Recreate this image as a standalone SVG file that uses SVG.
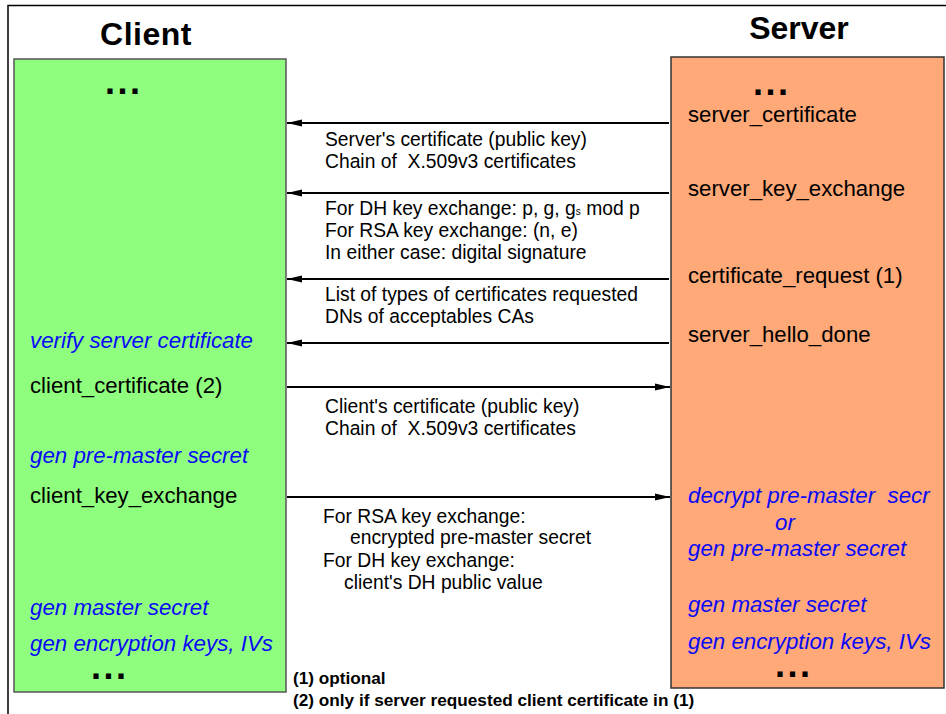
<svg xmlns="http://www.w3.org/2000/svg" width="946" height="714" viewBox="0 0 946 714">
<defs>
<style>
text{font-family:"Liberation Sans",Arial,sans-serif;}
.title{font-size:32px;font-weight:bold;fill:#000;}
.msg{font-size:22.2px;fill:#000;}
.act{font-size:22.3px;font-style:italic;fill:#0a0af5;}
.dots{font-size:36px;font-weight:bold;fill:#000;letter-spacing:2.5px;}
.lbl{font-size:19.3px;fill:#000;}
.note{font-size:17.2px;font-weight:bold;fill:#000;}
.conn{stroke:#000;stroke-width:2;fill:none;}
</style>
<marker id="ah" markerWidth="16" markerHeight="8" refX="15" refY="4" orient="auto" markerUnits="userSpaceOnUse">
<path d="M0,0.5 L15,4 L0,7.5 Z" fill="#000"/>
</marker>
</defs>
<rect x="0" y="0" width="946" height="714" fill="#fff"/>
<g id="frame" stroke="#000" stroke-width="1.5" fill="none">
<path d="M8,714 L8,5.5 L946,5.5"/>
</g>
<text class="title" x="146" y="45" text-anchor="middle" letter-spacing="0.5">Client</text>
<text class="title" x="799" y="39" text-anchor="middle">Server</text>
<g id="client">
<rect x="14" y="59" width="272" height="633" fill="#8ffe7f" stroke="#555" stroke-width="1.5"/>
<text class="dots" x="105" y="94">...</text>
<text class="act" x="30" y="348">verify server certificate</text>
<text class="msg" x="30" y="393">client_certificate (2)</text>
<text class="act" x="30" y="463">gen pre-master secret</text>
<text class="msg" x="30" y="503">client_key_exchange</text>
<text class="act" x="30" y="615">gen master secret</text>
<text class="act" x="30" y="651">gen encryption keys, IVs</text>
<text class="dots" x="91" y="679">...</text>
</g>
<g id="server">
<rect x="671" y="57" width="273" height="631" fill="#ffa878" stroke="#333" stroke-width="1.5"/>
<text class="dots" x="753" y="95">...</text>
<text class="msg" x="688" y="122">server_certificate</text>
<text class="msg" x="688" y="196">server_key_exchange</text>
<text class="msg" x="688" y="283">certificate_request (1)</text>
<text class="msg" x="688" y="342">server_hello_done</text>
<text class="act" x="688" y="503" xml:space="preserve">decrypt pre-master  secr</text>
<text class="act" x="775" y="530">or</text>
<text class="act" x="688" y="556">gen pre-master secret</text>
<text class="act" x="688" y="612">gen master secret</text>
<text class="act" x="688" y="649">gen encryption keys, IVs</text>
<text class="dots" x="775" y="677">...</text>
</g>
<g id="connectors">
<line class="conn" x1="669" y1="123" x2="287" y2="123" marker-end="url(#ah)"/>
<line class="conn" x1="669" y1="193" x2="287" y2="193" marker-end="url(#ah)"/>
<line class="conn" x1="669" y1="279" x2="287" y2="279" marker-end="url(#ah)"/>
<line class="conn" x1="669" y1="343" x2="287" y2="343" marker-end="url(#ah)"/>
<line class="conn" x1="287" y1="387" x2="670" y2="387" marker-end="url(#ah)"/>
<line class="conn" x1="287" y1="497" x2="670" y2="497" marker-end="url(#ah)"/>
</g>
<g id="labels">
<text class="lbl" x="325" y="146">Server's certificate (public key)</text>
<text class="lbl" x="325" y="168" xml:space="preserve">Chain of  X.509v3 certificates</text>
<text class="lbl" x="325" y="215">For DH key exchange: p, g, g<tspan font-size="10">s</tspan> mod p</text>
<text class="lbl" x="325" y="237">For RSA key exchange: (n, e)</text>
<text class="lbl" x="325" y="259">In either case: digital signature</text>
<text class="lbl" x="325" y="301">List of types of certificates requested</text>
<text class="lbl" x="325" y="323">DNs of acceptables CAs</text>
<text class="lbl" x="325" y="413">Client's certificate (public key)</text>
<text class="lbl" x="325" y="435" xml:space="preserve">Chain of  X.509v3 certificates</text>
<text class="lbl" x="323" y="523">For RSA key exchange:</text>
<text class="lbl" x="350" y="544">encrypted pre-master secret</text>
<text class="lbl" x="323" y="567">For DH key exchange:</text>
<text class="lbl" x="344" y="589">client's DH public value</text>
</g>
<g id="footnotes">
<text class="note" x="293" y="684">(1) optional</text>
<text class="note" x="293" y="706">(2) only if server requested client certificate in (1)</text>
</g>
</svg>
